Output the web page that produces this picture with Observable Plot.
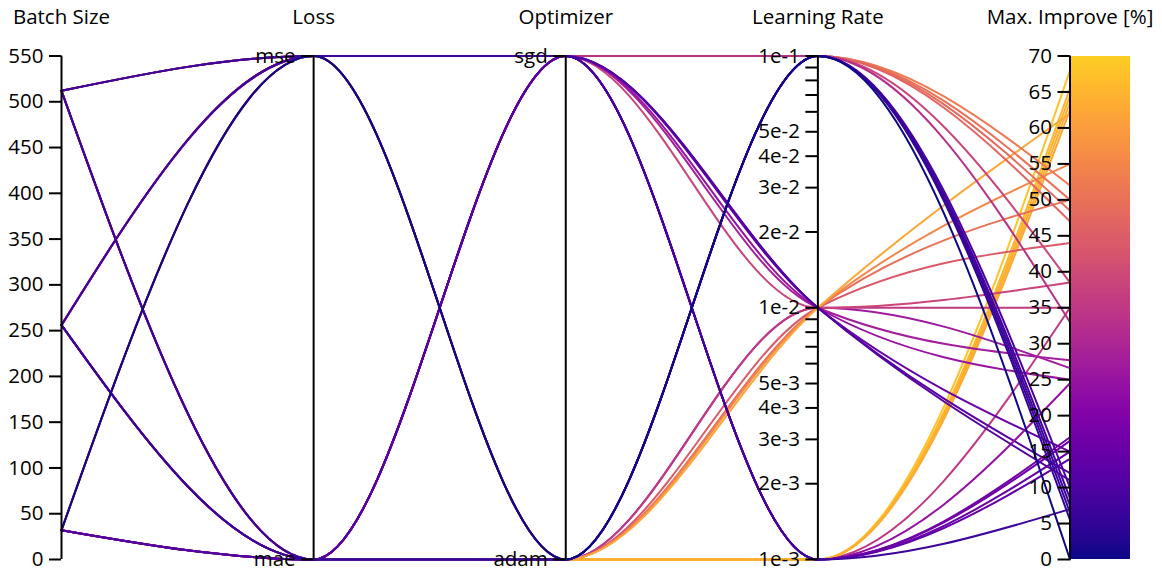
<!DOCTYPE html>
<html>
<head>
<meta charset="utf-8">
<script src="https://cdn.jsdelivr.net/npm/d3@7"></script>
<script src="https://cdn.jsdelivr.net/npm/@observablehq/plot@0.6"></script>
<style>
  html, body { margin: 0; padding: 0; background: #fff; }
  #chart svg { display: block; }
</style>
</head>
<body>
<div id="chart"></div>
<script>
// Hyper-parameter sweep: one row per training run (drawn in this order).
const dimensions = ["Batch Size", "Loss", "Optimizer", "Learning Rate", "Max. Improve [%]"];

const batchSize = [
  256, 512, 32, 512, 256, 32,
  512, 256, 32, 512, 256, 32,
  32, 512, 256, 512, 256,
  512, 256, 32, 512, 256, 32,
  32, 512, 256, 32, 256,
  32, 512, 256, 512,
  32, 256, 512, 32
];
const loss = [
  "mae", "mse", "mse", "mae", "mse", "mae",
  "mae", "mse", "mae", "mse", "mae", "mse",
  "mse", "mae", "mse", "mse", "mae",
  "mse", "mse", "mae", "mae", "mae", "mae",
  "mse", "mae", "mse", "mae", "mae",
  "mae", "mse", "mse", "mae",
  "mae", "mae", "mse", "mse"
];
const optimizer = [
  "adam", "adam", "adam", "adam", "adam", "adam",
  "adam", "adam", "adam", "adam", "adam", "adam",
  "sgd", "sgd", "sgd", "sgd", "sgd",
  "sgd", "sgd", "sgd", "sgd", "sgd", "sgd",
  "sgd", "sgd", "sgd", "sgd", "sgd",
  "adam", "adam", "adam", "adam",
  "sgd", "adam", "sgd", "adam"
];
const learningRate = [
  1e-3, 1e-3, 1e-3, 1e-3, 1e-3, 1e-3,
  1e-2, 1e-2, 1e-2, 1e-2, 1e-2, 1e-2,
  1e-2, 1e-2, 1e-2, 1e-2, 1e-2,
  1e-1, 1e-1, 1e-1, 1e-1, 1e-1, 1e-1,
  1e-3, 1e-3, 1e-3, 1e-3, 1e-3,
  1e-1, 1e-1, 1e-1, 1e-1,
  1e-2, 1e-1, 1e-3, 1e-1
];
const maxImprove = [
  35, 62.5, 68, 64.5, 65.5, 63.5,
  26.6, 35, 44, 50, 55, 62,
  38.5, 27.7, 25, 15, 12,
  52, 50, 48.5, 47, 38.5, 33,
  24.5, 17, 16.5, 15, 14,
  10, 8.5, 7.5, 6.5,
  11, 5.5, 7, 0
];

// Axis tick values and labels
const batchTicks = d3.range(0, 551, 50);
const lossLevels = ["mae", "mse"];
const optimizerLevels = ["adam", "sgd"];
const lrTicks = [1e-3, 2e-3, 3e-3, 4e-3, 5e-3, 6e-3, 7e-3, 8e-3, 9e-3,
                 1e-2, 2e-2, 3e-2, 4e-2, 5e-2, 6e-2, 7e-2, 8e-2, 9e-2, 1e-1];
const lrLabels = ["1e-3", "2e-3", "3e-3", "4e-3", "5e-3", "", "", "", "",
                  "1e-2", "2e-2", "3e-2", "4e-2", "5e-2", "", "", "", "", "1e-1"];
const improveTicks = d3.range(0, 71, 5);

// Each axis maps its own values onto a shared 0..1 height
const axisScales = [
  d3.scaleLinear([0, 550], [0, 1]),
  d3.scalePoint(lossLevels, [0, 1]),
  d3.scalePoint(optimizerLevels, [0, 1]),
  d3.scaleLog([1e-3, 1e-1], [0, 1]),
  d3.scaleLinear([0, 70], [0, 1])
];
const columns = [batchSize, loss, optimizer, learningRate, maxImprove];

const polylines = [];
maxImprove.forEach((v, i) => {
  columns.forEach((col, j) => {
    polylines.push({run: i, axis: j, pos: axisScales[j](col[i]), improve: v});
  });
});

const ticks = [
  ...batchTicks.map(t => ({axis: 0, pos: axisScales[0](t), label: String(t)})),
  ...lossLevels.map(t => ({axis: 1, pos: axisScales[1](t), label: t})),
  ...optimizerLevels.map(t => ({axis: 2, pos: axisScales[2](t), label: t})),
  ...lrTicks.map((t, k) => ({axis: 3, pos: axisScales[3](t), label: lrLabels[k]})),
  ...improveTicks.map(t => ({axis: 4, pos: axisScales[4](t), label: String(t)}))
];

// Colour bar slices beside the last axis
const barSteps = d3.range(0, 700).map(k => k * 0.1);

const padLeft = 61, padRight = 1069.5, padTop = 55.5, padBottom = 559;
const gap = (padRight - padLeft) / 4;      // pixels between neighbouring axes
const tickLen = 12 / gap;

const chart = Plot.plot({
  width: 1162,
  height: 571,
  margin: 0,
  x: {domain: [0, 4], range: [padLeft, padRight], axis: null},
  y: {domain: [0, 1], range: [padBottom, padTop], axis: null},
  color: {type: "linear", domain: [0, 70], interpolate: t => d3.interpolatePlasma(0.9 * t)},
  style: {fontFamily: "'Open Sans', 'Noto Sans', sans-serif", fontSize: "20.5px", color: "#000", background: "#fff"},
  marks: [
    Plot.rect(barSteps, {
      x1: 4 + 1.5 / gap, x2: 4 + 60 / gap,
      y1: d => axisScales[4](d), y2: d => axisScales[4](d + 0.1),
      fill: d => d + 0.05, shapeRendering: "crispEdges"
    }),
    Plot.line(polylines, {
      x: "axis", y: "pos", z: "run", stroke: "improve",
      curve: "monotone-x", strokeWidth: 2
    }),
    Plot.ruleX(d3.range(5), {x: d => d, y1: 0, y2: 1, stroke: "#000", strokeWidth: 2}),
    Plot.ruleY(ticks, {y: "pos", x1: d => d.axis - tickLen, x2: d => d.axis, stroke: "#000", strokeWidth: 2}),
    Plot.text(ticks.filter(d => d.label), {
      x: "axis", y: "pos", text: "label", textAnchor: "end", dx: -18, fontSize: 20.5, fill: "#000"
    }),
    Plot.text(dimensions, {
      x: (d, i) => i, text: d => d, frameAnchor: "top", dy: 17, lineAnchor: "middle",
      textAnchor: "middle", fontSize: 20.5, fill: "#000"
    })
  ]
});

document.getElementById("chart").append(chart);
</script>
</body>
</html>
